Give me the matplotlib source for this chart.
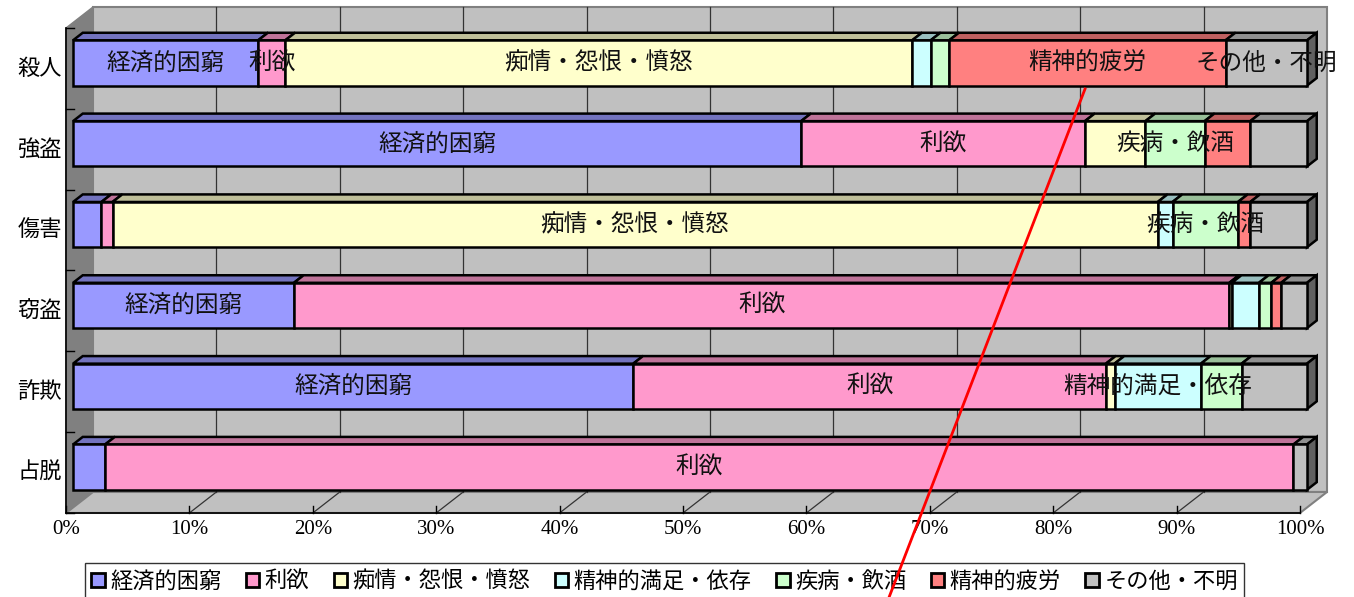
import matplotlib
matplotlib.use("Agg")
import matplotlib.pyplot as plt
from matplotlib.patches import Polygon, Patch
from matplotlib.lines import Line2D
import numpy as np

plt.rcParams["font.family"] = ["Noto Sans CJK JP", "DejaVu Sans"]

categories = ["殺人", "強盗", "傷害", "窃盗", "詐欺", "占脱"]
reasons = ["経済的困窮", "利欲", "痴情・怨恨・憤怒", "精神的満足・依存",
           "疾病・飲酒", "精神的疲労", "その他・不明"]

# percent share per category (same order as categories)
keizai = [15.0, 59.0, 2.3, 17.9, 45.4, 2.6]
riyoku = [2.2, 23.0, 0.9, 75.8, 38.3, 96.3]
chijo = [50.8, 4.9, 84.7, 0.2, 0.7, 0.0]
manzoku = [1.5, 0.0, 1.2, 2.2, 7.0, 0.0]
shippei = [1.5, 4.8, 5.3, 1.0, 3.3, 0.0]
hiro = [22.4, 3.7, 1.0, 0.8, 0.0, 0.0]
sonota = [6.6, 4.6, 4.6, 2.1, 5.3, 1.1]
series = [keizai, riyoku, chijo, manzoku, shippei, hiro, sonota]

# which segments carry a data label (category -> reason indexes)
shown_labels = {
    "殺人": [0, 1, 2, 5, 6],
    "強盗": [0, 1, 4],
    "傷害": [2, 4],
    "窃盗": [0, 1],
    "詐欺": [0, 1, 3],
    "占脱": [1],
}

colors = ["#9999FF", "#FF99CC", "#FFFFCC", "#CCFFFF", "#CCFFCC", "#FF8080", "#C0C0C0"]


def shade(c, f):
    rgb = np.array(matplotlib.colors.to_rgb(c))
    return tuple(rgb * f)


# pixel layout helpers
PX_PER_PCT = 12.34
PX_PER_ROW = 80.83
X0, Y0 = 66, 28
DX = 27 / PX_PER_PCT       # full depth offset in data units
DY = -21 / PX_PER_ROW
DF, DB = 0.26, 0.62        # bar front / back depth
BAR_H = 0.56

fig = plt.figure(figsize=(13.54, 5.97), dpi=100)
ax = fig.add_axes([0, 0, 1, 1])
ax.set_xlim(-X0 / PX_PER_PCT, (1354 - X0) / PX_PER_PCT)
ax.set_ylim((597 - Y0) / PX_PER_ROW, -Y0 / PX_PER_ROW)
ax.axis("off")

n = len(categories)


def p(x, y, d):
    return (x + d * DX, y + d * DY)


# walls and floor
ax.add_patch(Polygon([p(0, 0, 1), p(100, 0, 1), p(100, n, 1), p(0, n, 1)],
                     facecolor="#C0C0C0", edgecolor="#808080", lw=1.5, zorder=1))
ax.add_patch(Polygon([p(0, 0, 0), p(0, 0, 1), p(0, n, 1), p(0, n, 0)],
                     facecolor="#808080", edgecolor="#808080", lw=1, zorder=1))
ax.add_patch(Polygon([p(0, n, 0), p(100, n, 0), p(100, n, 1), p(0, n, 1)],
                     facecolor="#C0C0C0", edgecolor="#808080", lw=1.5, zorder=1))

for t in range(10, 100, 10):
    a, b = p(t, 0, 1), p(t, n, 1)
    ax.plot([a[0], b[0]], [a[1], b[1]], color="#333333", lw=0.9, zorder=2)
    a, b = p(t, n, 0), p(t, n, 1)
    ax.plot([a[0], b[0]], [a[1], b[1]], color="#333333", lw=0.9, zorder=2)

# axes lines and ticks
ax.plot([0, 0], [0, n], color="black", lw=1.2, zorder=3)
ax.plot([0, 100], [n, n], color="black", lw=1.2, zorder=3)
for r in range(n + 1):
    ax.plot([0, 8 / PX_PER_PCT], [r, r], color="black", lw=1, zorder=3)
for t in range(0, 101, 10):
    ax.plot([t, t], [n, n - 7 / PX_PER_ROW], color="black", lw=1, zorder=3)
    ax.text(t, n + 17 / PX_PER_ROW, f"{t}%", ha="center", va="center",
            fontsize=15, family="Liberation Serif")

for i, cat in enumerate(categories):
    ax.text(-4 / PX_PER_PCT, i + 0.5, cat, ha="right", va="center", fontsize=16)

# 3D-style stacked bars
for i, cat in enumerate(categories):
    yc = i + 0.5
    top = yc - BAR_H / 2
    bot = yc + BAR_H / 2
    left = 0.0
    last = max(k for k, s in enumerate(series) if s[i] > 0)
    for k, s in enumerate(series):
        w = s[i]
        if w <= 0:
            continue
        fx, fy = p(left, yc, DF)
        ax.barh(fy, w, left=fx, height=BAR_H, color=colors[k],
                edgecolor="black", lw=1.8, zorder=5)
        ax.add_patch(Polygon([p(left, top, DF), p(left + w, top, DF),
                              p(left + w, top, DB), p(left, top, DB)],
                             facecolor=shade(colors[k], 0.75), edgecolor="black",
                             lw=1.8, zorder=4))
        if k == last:
            ax.add_patch(Polygon([p(100, top, DF), p(100, top, DB),
                                  p(100, bot, DB), p(100, bot, DF)],
                                 facecolor=shade(colors[k], 0.5), edgecolor="black",
                                 lw=1.8, zorder=4))
        if k in shown_labels[cat]:
            ax.text(fx + w / 2, fy, reasons[k], ha="center", va="center",
                    fontsize=17, color="#111111", zorder=6)
        left += w

handles = [Patch(facecolor=c, edgecolor="black", lw=2) for c in colors]
leg = fig.legend(handles, reasons, loc="upper center", ncol=7,
                 bbox_to_anchor=(664.5 / 1354, 1 - 563 / 597),
                 fontsize=16, frameon=True, fancybox=False, edgecolor="black",
                 handlelength=0.6, handleheight=0.6, handletextpad=0.25,
                 columnspacing=1.1, borderpad=0.3, borderaxespad=0)
leg.get_frame().set_linewidth(1)

# red annotation stroke
fig.add_artist(Line2D([(1085 - X0) / PX_PER_PCT, (888 - X0) / PX_PER_PCT],
                      [(89 - Y0) / PX_PER_ROW, (600 - Y0) / PX_PER_ROW],
                      transform=ax.transData, color="red", lw=2, zorder=10))

fig.savefig("out.png", dpi=100)
